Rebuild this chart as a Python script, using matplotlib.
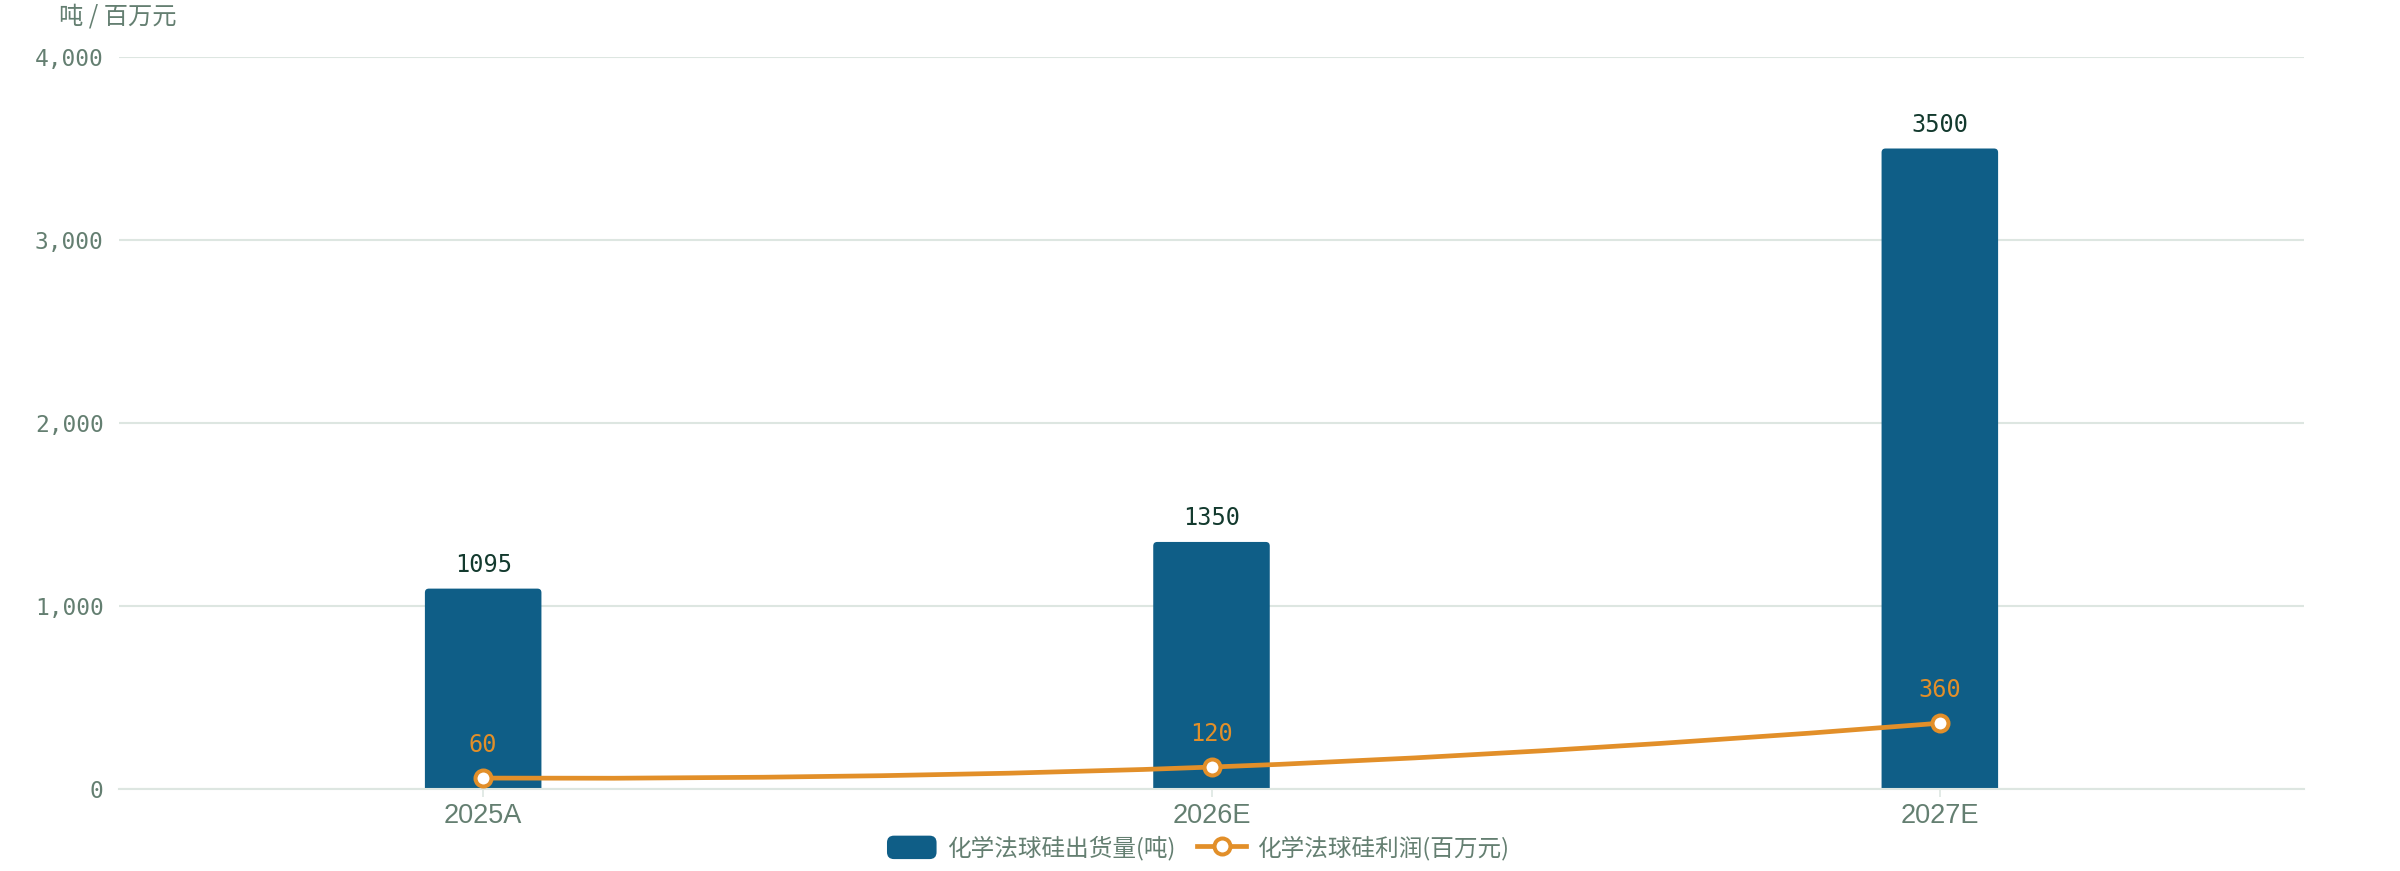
import numpy as np
import matplotlib
matplotlib.use("Agg")
import matplotlib.pyplot as plt
from matplotlib.path import Path
from matplotlib.patches import PathPatch, FancyBboxPatch, Rectangle
from matplotlib.lines import Line2D
from matplotlib.legend_handler import HandlerPatch

categories = ["2025A", "2026E", "2027E"]
shipments  = [1095, 1350, 3500]      # 化学法球硅出货量(吨)
profit     = [60, 120, 360]          # 化学法球硅利润(百万元)
y_ticks    = [0, 1000, 2000, 3000, 4000]

BAR_COLOR  = "#0f5e87"
LINE_COLOR = "#e28f29"
GRID_COLOR = "#dde6e1"
TEXT_COLOR = "#647f71"
LABEL_DARK = "#133a2e"
CJK        = ["Noto Sans CJK SC", "DejaVu Sans"]
MONO       = "DejaVu Sans Mono"

W, H, DPI = 2400, 871, 100
fig = plt.figure(figsize=(W / DPI, H / DPI), dpi=DPI)
ax = fig.add_axes([119 / W, (H - 789) / H, (2304 - 119) / W, (789 - 57) / H])

x = np.arange(len(categories))
ax.set_xlim(-0.5, len(categories) - 0.5)
ax.set_ylim(0, 4000)

# bars with slightly rounded tops (bottom corners sit under the axis line)
bars = ax.bar(x, shipments, width=0.16, color=BAR_COLOR, zorder=2)
px_x = 1 / 728.0          # data units per pixel along x
px_y = 4000 / 732.0       # data units per pixel along y
for r in bars:
    r.set_visible(False)
    ax.add_patch(FancyBboxPatch((r.get_x(), -8 * px_y), r.get_width(),
                                r.get_height() + 8 * px_y,
                                boxstyle=f"round,pad=0,rounding_size={4 * px_x}",
                                mutation_aspect=px_y / px_x,
                                facecolor=BAR_COLOR, edgecolor="none",
                                zorder=2))
for xi, v in zip(x, shipments):
    ax.annotate(f"{v}", (xi, v), xytext=(0, 12), textcoords="offset points",
                ha="center", va="baseline", fontsize=17, family=MONO,
                color=LABEL_DARK)

# smooth line (bezier control points computed in pixel space)
pts  = np.column_stack([x, profit]).astype(float)
disp = ax.transData.transform(pts)
smooth = 0.5
cps = []
for i in range(len(disp)):
    p = disp[i]
    if i == 0 or i == len(disp) - 1:
        cps.append((p, p))
        continue
    prev, nxt = disp[i - 1], disp[i + 1]
    v  = (nxt - prev) * smooth
    d0 = np.linalg.norm(p - prev)
    d1 = np.linalg.norm(nxt - p)
    cps.append((p - v * d0 / (d0 + d1), p + v * d1 / (d0 + d1)))
verts, codes = [disp[0]], [Path.MOVETO]
for i in range(1, len(disp)):
    verts += [cps[i - 1][1], cps[i][0], disp[i]]
    codes += [Path.CURVE4] * 3
verts = ax.transData.inverted().transform(np.array(verts))
ax.add_patch(PathPatch(Path(verts, codes), fill=False, edgecolor=LINE_COLOR,
                       lw=3.4, zorder=3, capstyle="round"))
ax.plot(x, profit, "o", ms=11.5, mfc="white", mec=LINE_COLOR, mew=2.9,
        zorder=4)
for xi, v in zip(x, profit):
    ax.annotate(f"{v}", (xi, v), xytext=(0, 19), textcoords="offset points",
                ha="center", va="baseline", fontsize=17, family=MONO,
                color=LINE_COLOR, zorder=5)

# axes styling
ax.set_yticks(y_ticks)
ax.set_yticklabels([f"{t:,}" for t in y_ticks], family=MONO, fontsize=16.5,
                   color=TEXT_COLOR)
ax.tick_params(axis="y", length=0, pad=11)
ax.set_xticks(x)
ax.set_xticklabels(categories, family="Liberation Sans", fontsize=19.5,
                   color=TEXT_COLOR)
ax.tick_params(axis="x", length=6, width=1.2, color=GRID_COLOR, pad=4)
ax.grid(axis="y", color=GRID_COLOR, lw=1.5, zorder=0)
ax.set_axisbelow(True)
for s in ["top", "right", "left"]:
    ax.spines[s].set_visible(False)
ax.spines["bottom"].set_color(GRID_COLOR)
ax.spines["bottom"].set_linewidth(1.5)
ax.spines["bottom"].set_zorder(3)

fig.text(59 / W, 1 - 17 / H, "吨 / 百万元", family=CJK, fontsize=17.5,
         color=TEXT_COLOR, ha="left", va="center")


class RoundBox(HandlerPatch):
    def create_artists(self, legend, orig_handle, xdescent, ydescent,
                       width, height, fontsize, trans):
        p = FancyBboxPatch((-xdescent, -ydescent), width, height,
                           boxstyle="round,pad=0,rounding_size=5",
                           facecolor=orig_handle.get_facecolor(),
                           edgecolor="none", transform=trans)
        return [p]


bar_handle  = Rectangle((0, 0), 1, 1, facecolor=BAR_COLOR)
line_handle = Line2D([], [], color=LINE_COLOR, lw=3.4, marker="o", ms=11.5,
                     mfc="white", mec=LINE_COLOR, mew=2.9)
fig.legend([bar_handle, line_handle],
           ["化学法球硅出货量(吨)", "化学法球硅利润(百万元)"],
           loc="center", bbox_to_anchor=(1198 / W, (H - 848) / H), ncol=2,
           frameon=False, prop={"family": CJK, "size": 17},
           labelcolor=TEXT_COLOR, handlelength=2.1, handleheight=1.15,
           handletextpad=0.45, columnspacing=0.9, borderpad=0,
           handler_map={Rectangle: RoundBox()})

fig.savefig("out.png", dpi=DPI, facecolor="white")
